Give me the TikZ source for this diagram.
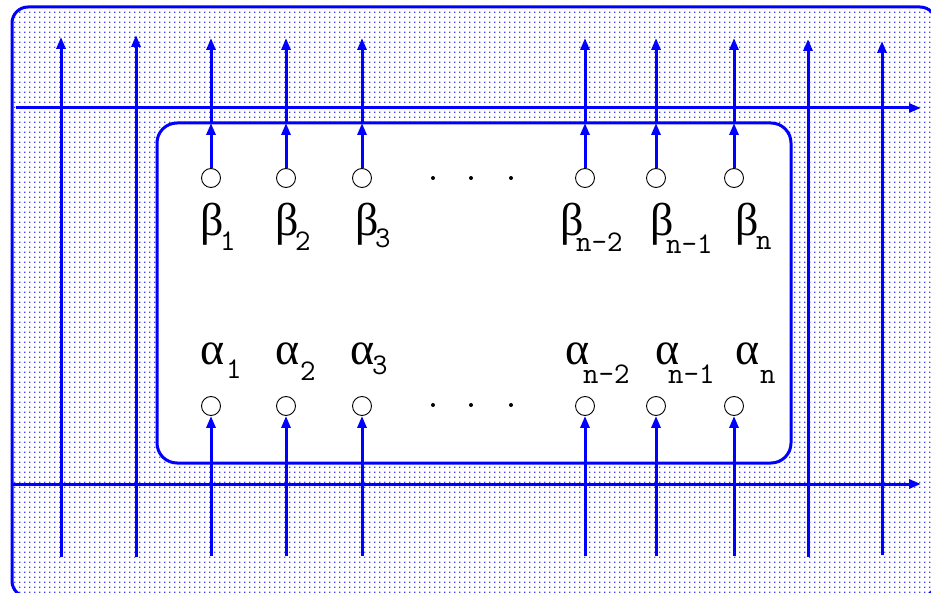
\documentclass[tikz,border=0pt]{standalone}
\usepackage{fontspec}
\setmainfont{Liberation Serif}
\usetikzlibrary{arrows.meta,patterns.meta}
\tikzdeclarepattern{name=bluedots, type=uncolored,
  bounding box={(0pt,0pt) and (4.6pt,5pt)}, tile size={(4.6pt,5pt)},
  code={\pgfpathrectangle{\pgfqpoint{0pt}{0pt}}{\pgfqpoint{1.6pt}{1.6pt}}\pgfusepath{fill}}}
% #1 letter, #2 offset of subscript, #3 drop of subscript, #4 subscript
\newcommand{\glab}[4]{\makebox[#2pt][l]{#1}\raisebox{-#3pt}{\ttfamily\fontsize{30}{30}\selectfont #4}}
\begin{document}
\begin{tikzpicture}[x=1pt,y=-1pt,
  wire/.style={blue, line width=3pt},
  arr/.style={wire, -{Triangle[length=12pt,width=9pt]}},
  port/.style={circle, draw=black, line width=0.9pt, fill=white, minimum size=19pt, inner sep=0pt},
  lbl/.style={inner sep=0pt, anchor=base west, font=\fontsize{46}{46}\selectfont},
  ell/.style={circle, fill=black, minimum size=4pt, inner sep=0pt}]
\useasboundingbox (0,0) rectangle (931,593);
\fill[white] (0,0) rectangle (931,593);
\clip (0,0) rectangle (931,593);
% outer region
\path[preaction={fill=white}, pattern=bluedots, pattern color=blue!75] (12,7) [rounded corners=16pt] rectangle (936,597);
\draw[wire, rounded corners=16pt] (12,7) rectangle (936,597);
% inner box
\draw[wire, fill=white, rounded corners=20pt] (157,123) rectangle (791,463);
% horizontal arrows
\coordinate (hl1) at (16,108); \coordinate (hr1) at (921,108);
\coordinate (hl2) at (12,484); \coordinate (hr2) at (921,484);
\draw[arr] (hl1) -- (hr1);
\draw[arr] (hl2) -- (hr2);
% outer vertical arrows
\foreach \x/\t/\b [count=\i] in {61/37/557,136/35/557,808/39/557,882/41/555}{
  \coordinate (ob\i) at (\x,\b); \coordinate (ot\i) at (\x,\t);
  \draw[arr] (ob\i) -- (ot\i);
}
% ports
\foreach \x [count=\i] in {211,286,362,585,656,734}{
  \node[port] (b\i) at (\x,178) {};
  \node[port] (a\i) at (\x,406) {};
  \coordinate (bt\i) at (\x,123);
  \coordinate (tt\i) at (\x,38);
  \coordinate (bb\i) at (\x,556);
  \draw[arr] (b\i.north) -- (bt\i);
  \draw[arr] (bt\i) -- (tt\i);
  \draw[arr] (bb\i) -- (a\i.south);
}
% ellipses
\foreach \x [count=\i] in {433,471,511}{
  \node[ell] (eb\i) at (\x,178) {};
  \node[ell] (ea\i) at (\x,405) {};
}
% beta labels
\node[lbl] (lb1) at (200,236) {\glab{β}{20}{15}{1}};
\node[lbl] (lb2) at (275,236) {\glab{β}{20}{15}{2}};
\node[lbl] (lb3) at (355,236) {\glab{β}{20}{12}{3}};
\node[lbl] (lb4) at (560,236) {\glab{β}{16}{16}{n-2}};
\node[lbl] (lb5) at (650,236) {\glab{β}{16}{18}{n-1}};
\node[lbl] (lb6) at (735,236) {\glab{β}{21}{14}{n}};
% alpha labels
\node[lbl] (la1) at (200,364) {\glab{α}{26}{14}{1}};
\node[lbl] (la2) at (275,364) {\glab{α}{25}{16}{2}};
\node[lbl] (la3) at (350,364) {\glab{α}{22}{10}{3}};
\node[lbl] (la4) at (565,364) {\glab{α}{18}{19}{n-2}};
\node[lbl] (la5) at (655,364) {\glab{α}{13}{19}{n-1}};
\node[lbl] (la6) at (735,364) {\glab{α}{25}{19}{n}};
\end{tikzpicture}
\end{document}
